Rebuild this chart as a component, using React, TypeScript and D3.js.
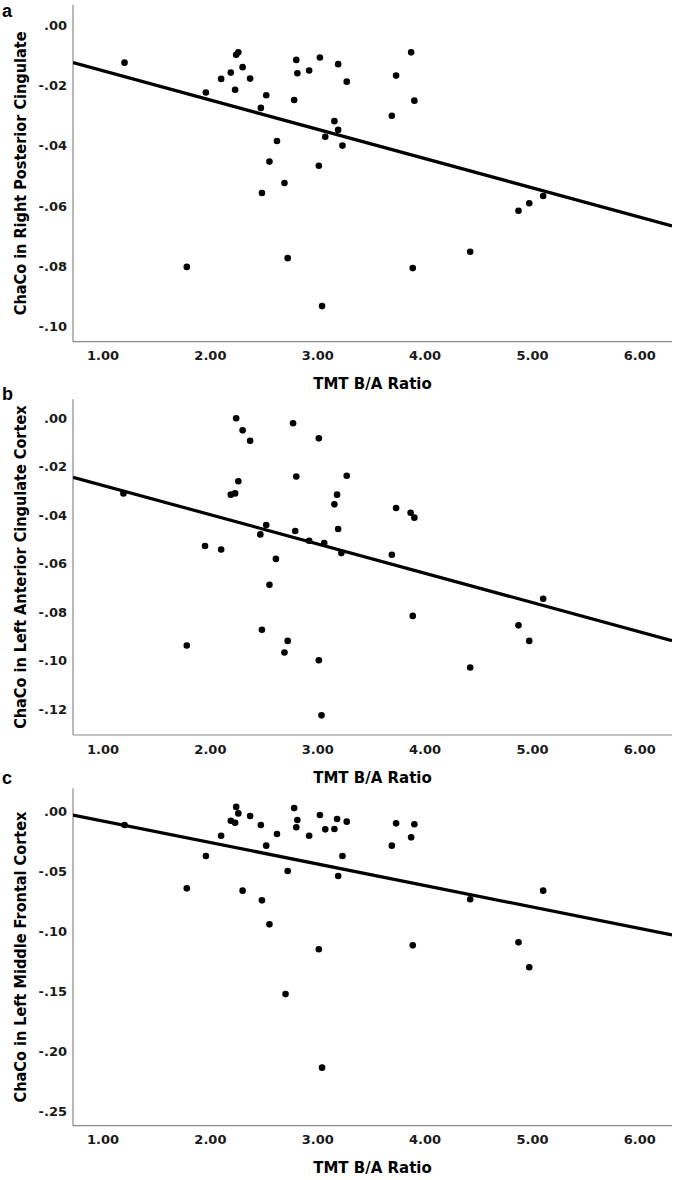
import React from "react";
import * as d3 from "d3";

// ---------- data ----------
const xTickValues = [1, 2, 3, 4, 5, 6];
const xTitle = "TMT B/A Ratio";
const panelLetters = ["a", "b", "c"];
const yTitles = [
  "ChaCo in Right Posterior Cingulate",
  "ChaCo in Left Anterior Cingulate Cortex",
  "ChaCo in Left Middle Frontal Cortex",
];

// Panel a
const tmtA = [1.2, 1.78, 1.958, 2.1, 2.19, 2.23, 2.24, 2.26, 2.3, 2.37, 2.47, 2.48, 2.52, 2.55, 2.62, 2.69, 2.72, 2.78, 2.8, 2.81, 2.92, 3.01, 3.02, 3.04, 3.07, 3.155, 3.19, 3.19, 3.23, 3.27, 3.69, 3.73, 3.87, 3.885, 3.9, 4.42, 4.87, 4.97, 5.1];
const chacoA = [-0.0125, -0.0802, -0.0224, -0.0179, -0.0158, -0.0215, -0.0099, -0.0091, -0.014, -0.0178, -0.0275, -0.0557, -0.0233, -0.0453, -0.0385, -0.0524, -0.0773, -0.0249, -0.0116, -0.016, -0.0151, -0.0467, -0.0108, -0.0932, -0.0371, -0.0319, -0.013, -0.0348, -0.04, -0.0188, -0.0301, -0.0168, -0.0091, -0.0806, -0.0251, -0.0752, -0.0616, -0.0591, -0.0567];

// Panel b
const tmtB = [1.19, 1.78, 1.95, 2.1, 2.19, 2.23, 2.24, 2.26, 2.3, 2.37, 2.465, 2.48, 2.52, 2.55, 2.61, 2.69, 2.72, 2.77, 2.79, 2.8, 2.92, 3.01, 3.01, 3.035, 3.06, 3.155, 3.18, 3.19, 3.22, 3.27, 3.69, 3.73, 3.865, 3.885, 3.9, 4.42, 4.87, 4.97, 5.1];
const chacoB = [-0.031, -0.0937, -0.0527, -0.0541, -0.0315, -0.031, 0.0, -0.026, -0.005, -0.0093, -0.0479, -0.0872, -0.044, -0.0687, -0.058, -0.0966, -0.0918, -0.0021, -0.0465, -0.024, -0.0505, -0.0083, -0.0998, -0.1225, -0.0515, -0.0355, -0.0315, -0.0457, -0.0556, -0.0237, -0.0563, -0.037, -0.039, -0.0815, -0.041, -0.1028, -0.0854, -0.0918, -0.0744];

// Panel c
const tmtC = [1.2, 1.78, 1.958, 2.1, 2.19, 2.23, 2.24, 2.26, 2.3, 2.37, 2.47, 2.48, 2.52, 2.55, 2.62, 2.7, 2.72, 2.78, 2.8, 2.81, 2.92, 3.01, 3.02, 3.04, 3.07, 3.155, 3.18, 3.19, 3.23, 3.27, 3.69, 3.73, 3.87, 3.885, 3.9, 4.42, 4.87, 4.97, 5.1];
const chacoC = [-0.0111, -0.0639, -0.0369, -0.02, -0.0075, -0.0092, 0.004, -0.0014, -0.0658, -0.0036, -0.0111, -0.0739, -0.0283, -0.0939, -0.0186, -0.152, -0.0494, 0.003, -0.013, -0.0069, -0.02, -0.1147, -0.0028, -0.2133, -0.0147, -0.0144, -0.0061, -0.0536, -0.0369, -0.0083, -0.0283, -0.0097, -0.0214, -0.1114, -0.0105, -0.073, -0.1089, -0.1297, -0.0658];

const yTicksA = [0, -0.02, -0.04, -0.06, -0.08, -0.1];
const yTicksB = [0, -0.02, -0.04, -0.06, -0.08, -0.1, -0.12];
const yTicksC = [0, -0.05, -0.1, -0.15, -0.2, -0.25];

// fit lines (intercept, slope)
const fitA = [-0.00552, -0.0097];
const fitB = [-0.01564, -0.012075];
const fitC = [0.01015, -0.01792];

// axis ranges
const xDomain = [0.72, 6.3];
const yDomainA = [-0.105, 0.0066];
const yDomainB = [-0.1306, 0.0078];
const yDomainC = [-0.2617, 0.0195];

// ---------- layout ----------
const W = 676;
const H = 1180;
const plotLeft = 73;
const plotRight = 672;
const panelTops = [5, 399.3, 788.3];
const panelBottoms = [341.7, 735, 1125.7];
const letterBaselines = [16.5, 400, 784];

const panels = [
  { xs: tmtA, ys: chacoA, ticks: yTicksA, domain: yDomainA, fit: fitA },
  { xs: tmtB, ys: chacoB, ticks: yTicksB, domain: yDomainB, fit: fitB },
  { xs: tmtC, ys: chacoC, ticks: yTicksC, domain: yDomainC, fit: fitC },
];

const fmtY = (v: number) =>
  (v < 0 ? "-" : "") + Math.abs(v).toFixed(2).replace(/^0/, "");
const fmtX = (v: number) => v.toFixed(2);

const tickFont = "'DejaVu Sans', sans-serif";
const titleFont = "'DejaVu Sans', sans-serif";

function Panel({ i }: { i: number }) {
  const p = panels[i];
  const top = panelTops[i];
  const bottom = panelBottoms[i];
  const x = d3.scaleLinear().domain(xDomain).range([plotLeft, plotRight]);
  const y = d3.scaleLinear().domain(p.domain).range([bottom, top]);
  const line = d3
    .line<number>()
    .x((d) => x(d))
    .y((d) => y(p.fit[0] + p.fit[1] * d));
  const clipId = `clip-${i}`;
  const cy = (top + bottom) / 2;
  return (
    <g>
      <defs>
        <clipPath id={clipId}>
          <rect x={plotLeft} y={top} width={plotRight - plotLeft} height={bottom - top} />
        </clipPath>
      </defs>
      <text
        x={2}
        y={letterBaselines[i]}
        fontFamily="'Liberation Sans', Arial, sans-serif"
        fontWeight={700}
        fontSize={18}
        fill="#000"
      >
        {panelLetters[i]}
      </text>
      {/* axes */}
      <line x1={plotLeft} x2={plotLeft} y1={top} y2={bottom} stroke="#8a8a8a" strokeWidth={1.2} />
      <line x1={plotLeft} x2={plotRight} y1={bottom} y2={bottom} stroke="#8a8a8a" strokeWidth={1.2} />
      {/* y ticks */}
      {p.ticks.map((t) => (
        <text
          key={`y${t}`}
          x={plotLeft - 6}
          y={y(t)}
          dy="0.36em"
          textAnchor="end"
          fontFamily={tickFont}
          fontWeight={700}
          fontSize={13}
          fill="#1a1a1a"
        >
          {fmtY(t)}
        </text>
      ))}
      {/* x ticks */}
      {xTickValues.map((t) => (
        <text
          key={`x${t}`}
          x={x(t)}
          y={bottom + 18.5}
          textAnchor="middle"
          fontFamily={tickFont}
          fontWeight={700}
          fontSize={13}
          fill="#1a1a1a"
        >
          {fmtX(t)}
        </text>
      ))}
      {/* x title */}
      <text
        x={(plotLeft + plotRight) / 2}
        y={bottom + 47.5}
        textAnchor="middle"
        fontFamily={titleFont}
        fontWeight={700}
        fontSize={15}
        fill="#000"
      >
        {xTitle}
      </text>
      {/* y title */}
      <text
        transform={`translate(26,${cy}) rotate(-90) scale(1,1.15)`}
        textAnchor="middle"
        fontFamily={titleFont}
        fontWeight={700}
        fontSize={14.5}
        fill="#000"
      >
        {yTitles[i]}
      </text>
      {/* fit line */}
      <path
        d={line(xDomain) || ""}
        fill="none"
        stroke="#000"
        strokeWidth={3.2}
        clipPath={`url(#${clipId})`}
      />
      {/* points */}
      {p.xs.map((xv, k) => (
        <circle key={k} cx={x(xv)} cy={y(p.ys[k])} r={3.3} fill="#000" />
      ))}
    </g>
  );
}

export default function App() {
  return (
    <svg
      width={W}
      height={H}
      viewBox={`0 0 ${W} ${H}`}
      style={{ position: "absolute", left: 0, top: 0, display: "block", background: "#fff" }}
    >
      <rect x={0} y={0} width={W} height={H} fill="#fff" />
      {panels.map((_, i) => (
        <Panel key={i} i={i} />
      ))}
    </svg>
  );
}
